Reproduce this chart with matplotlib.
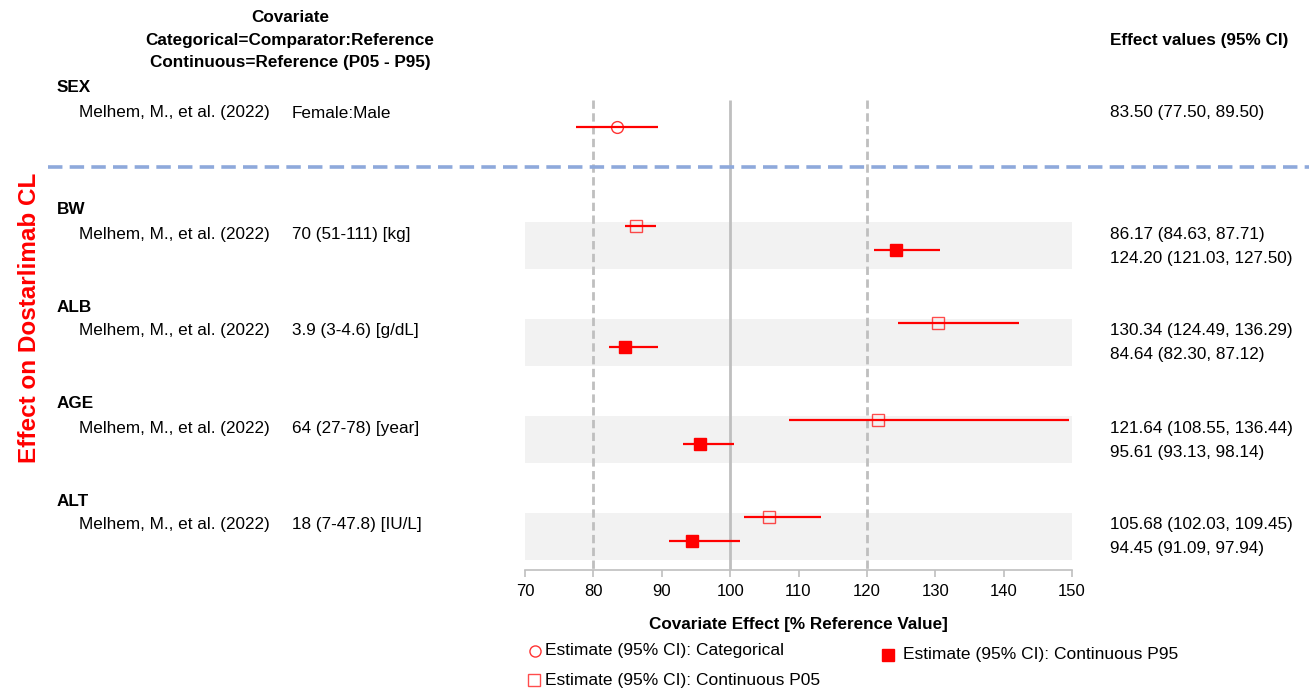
import matplotlib
matplotlib.use('Agg')
import matplotlib.pyplot as plt
from matplotlib.lines import Line2D
from matplotlib.transforms import blended_transform_factory

plt.rcParams['font.family'] = ['Liberation Sans', 'DejaVu Sans']

# ---- data ----
study = "Melhem, M., et al. (2022)"

cat_group = "SEX"
cat_ref = "Female:Male"
cat_est = 83.50
cat_lo = 77.50
cat_hi = 89.50
cat_text = "83.50 (77.50, 89.50)"

cont_groups = ["BW", "ALB", "AGE", "ALT"]
cont_ref = ["70 (51-111) [kg]", "3.9 (3-4.6) [g/dL]", "64 (27-78) [year]", "18 (7-47.8) [IU/L]"]

p05_est = [86.17, 130.34, 121.64, 105.68]
p05_lo = [84.63, 124.49, 108.55, 102.03]
p05_hi = [89.2, 142.2, 149.5, 113.3]     # bar ends as drawn
p95_est = [124.20, 84.64, 95.61, 94.45]
p95_lo = [121.03, 82.30, 93.13, 91.09]
p95_hi = [130.7, 89.4, 100.6, 101.4]     # bar ends as drawn

p05_text = ["86.17 (84.63, 87.71)", "130.34 (124.49, 136.29)", "121.64 (108.55, 136.44)", "105.68 (102.03, 109.45)"]
p95_text = ["124.20 (121.03, 127.50)", "84.64 (82.30, 87.12)", "95.61 (93.13, 98.14)", "94.45 (91.09, 97.94)"]

xticks = [70, 80, 90, 100, 110, 120, 130, 140, 150]

# ---- layout (pixel rows of a 1309x695 canvas) ----
W, H = 1309, 695
RED = '#FF0000'
GRID = '#BFBFBF'
FS = 12.3

fig = plt.figure(figsize=(W / 100, H / 100), dpi=100)
ax = fig.add_axes([525 / W, (H - 570) / H, (1072 - 525) / W, (570 - 95) / H])
ax.set_xlim(70, 150)
ax.set_ylim(570, 95)

trans = blended_transform_factory(fig.transFigure, ax.transData)

# reference lines
ax.vlines(100, 100, 570, color=GRID, lw=2, zorder=1)
for v in (80, 120):
    ax.vlines(v, 100, 570, color=GRID, lw=2, linestyles=(0, (3, 1.6)), zorder=1)

# categorical row
ax.hlines(127, cat_lo, cat_hi, color=RED, lw=1.6, zorder=3)
ax.plot(cat_est, 127, 'o', ms=8.5, mfc='none', mec=RED, mew=1, alpha=0.8, zorder=4)
fig.text(57 / W, 88, cat_group, transform=trans, fontsize=FS, fontweight='bold', va='center')
fig.text(79 / W, 113, study, transform=trans, fontsize=FS, va='center')
fig.text(292 / W, 113, cat_ref, transform=trans, fontsize=FS, va='center')
fig.text(1110 / W, 113, cat_text, transform=trans, fontsize=FS, va='center')

# separator
fig.add_artist(Line2D([48 / W, 1.0], [167, 167], transform=trans, color='#8EA9DB',
                      lw=2.6, dashes=(4, 2)))

# continuous rows
band_top = [222, 319, 416, 513]
band_h = 47
for i, g in enumerate(cont_groups):
    top = band_top[i]
    ax.axhspan(top, top + band_h, xmin=0, xmax=1, color='#F2F2F2', lw=0, zorder=0)
    y5 = top + 3.5
    y95 = top + 27.5
    ax.hlines(y5, p05_lo[i], p05_hi[i], color=RED, lw=1.6, zorder=3)
    ax.plot(p05_est[i], y5, 's', ms=8.3, mfc='none', mec=RED, mew=1, alpha=0.7, zorder=4)
    ax.hlines(y95, p95_lo[i], p95_hi[i], color=RED, lw=1.6, zorder=3)
    ax.plot(p95_est[i], y95, 's', ms=8.8, mfc=RED, mec=RED, zorder=4)

    fig.text(57 / W, top - 12, g, transform=trans, fontsize=FS, fontweight='bold', va='center')
    fig.text(79 / W, top + 12, study, transform=trans, fontsize=FS, va='center')
    fig.text(292 / W, top + 12, cont_ref[i], transform=trans, fontsize=FS, va='center')
    fig.text(1110 / W, top + 12, p05_text[i], transform=trans, fontsize=FS, va='center')
    fig.text(1110 / W, top + 36, p95_text[i], transform=trans, fontsize=FS, va='center')

# axis styling
for s in ('top', 'right', 'left'):
    ax.spines[s].set_visible(False)
ax.spines['bottom'].set_color(GRID)
ax.spines['bottom'].set_linewidth(1.2)
ax.set_yticks([])
ax.set_xticks(xticks)
ax.tick_params(axis='x', colors=GRID, length=5, width=1.2, labelsize=12, labelcolor='black', pad=5)
ax.set_xlabel("Covariate Effect [% Reference Value]", fontsize=FS, fontweight='bold', labelpad=13)

# headers
fig.text(290 / W, 1 - 17 / H, "Covariate", fontsize=FS, fontweight='bold', ha='center', va='center')
fig.text(290 / W, 1 - 40 / H, "Categorical=Comparator:Reference", fontsize=FS, fontweight='bold', ha='center', va='center')
fig.text(290 / W, 1 - 62 / H, "Continuous=Reference (P05 - P95)", fontsize=FS, fontweight='bold', ha='center', va='center')
fig.text(1110 / W, 1 - 41 / H, "Effect values (95% CI)", fontsize=FS, fontweight='bold', va='center')

fig.text(30 / W, 1 - 318 / H, "Effect on Dostarlimab CL", color=RED, fontsize=17.5, fontweight='bold',
         rotation=90, ha='center', va='center')

# legend drawn by hand
fig.add_artist(Line2D([535 / W], [1 - 651 / H], marker='o', ms=8, mfc='none', mec=RED, mew=1, alpha=0.8, ls=''))
fig.text(545 / W, 1 - 651 / H, "Estimate (95% CI): Categorical", fontsize=12.5, va='center')
fig.add_artist(Line2D([534 / W], [1 - 680 / H], marker='s', ms=8, mfc='none', mec=RED, mew=1, alpha=0.7, ls=''))
fig.text(545 / W, 1 - 681 / H, "Estimate (95% CI): Continuous P05", fontsize=12.5, va='center')
fig.add_artist(Line2D([888 / W], [1 - 655 / H], marker='s', ms=8.5, mfc=RED, mec=RED, ls=''))
fig.text(903 / W, 1 - 655 / H, "Estimate (95% CI): Continuous P95", fontsize=12.5, va='center')

fig.savefig("out.png", dpi=100)
